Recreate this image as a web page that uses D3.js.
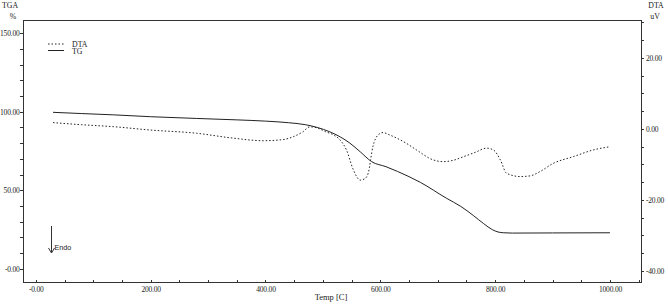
<!DOCTYPE html>
<html>
<head>
<meta charset="utf-8">
<script src="https://cdn.jsdelivr.net/npm/d3@7"></script>
<style>
  body { margin: 0; background: #fff; }
  svg { display: block; }
</style>
</head>
<body>
<svg id="chart" width="668" height="304"></svg>
<script>
// TG curve (left axis, %)
const tgTemps = [30, 80, 135, 200, 280, 350, 400, 440, 470, 490, 512, 530, 547, 565, 585, 610, 630, 670, 715, 740, 762, 780, 795, 805, 815, 830, 900, 1000];
const tgValues = [99.6, 98.8, 98.0, 96.8, 95.7, 94.8, 94.0, 93.0, 91.7, 90.0, 87.2, 84.0, 80.0, 74.5, 68.2, 65.0, 62.0, 55.0, 45.0, 39.8, 34.0, 28.8, 25.0, 23.5, 23.0, 22.8, 22.9, 23.0];

// DTA curve (right axis, uV)
const dtaTemps = [30, 80, 135, 200, 280, 340, 396, 430, 448, 465, 477, 490, 505, 520, 530, 541, 553, 565, 573, 579, 587, 596, 605, 615, 629, 645, 663, 692, 710, 725, 745, 765, 785, 797, 809, 820, 844, 861, 878, 901, 936, 971, 1000];
const dtaValues = [1.8, 1.2, 0.65, -0.3, -1.2, -2.5, -3.3, -3.0, -2.2, -0.8, 0.6, 0.3, -0.8, -1.8, -3.1, -5.9, -11.5, -14.4, -14.0, -12.4, -5.0, -1.7, -1.0, -1.6, -2.6, -4.0, -5.9, -8.7, -9.2, -8.9, -7.8, -6.6, -5.4, -5.9, -8.7, -12.5, -13.4, -13.2, -12.0, -9.7, -7.8, -5.9, -5.0];

// tick labels
const xTicks = [0, 200, 400, 600, 800, 1000];
const xTickLabels = ["-0.00", "200.00", "400.00", "600.00", "800.00", "1000.00"];
const tgTicks = [0, 50, 100, 150];
const tgTickLabels = ["-0.00", "50.00", "100.00", "150.00"];
const dtaTicks = [-40, -20, 0, 20];
const dtaTickLabels = ["-40.00", "-20.00", "0.00", "20.00"];

window.addEventListener("load", () => {
  let svg = d3.select("#chart");
  const L = 23, R = 641, T = 20, B = 282;
  const ink = "#222";
  const serif = "'Liberation Serif', 'Times New Roman', serif";

  let x = d3.scaleLinear().domain([-22.3, 1054]).range([L, R]);
  let yL = d3.scaleLinear().domain([-8.3, 158.3]).range([B, T]);
  let yR = d3.scaleLinear().domain([-43.1, 30.7]).range([B, T]);

  // frame
  svg.append("rect").attr("x", L).attr("y", T).attr("width", R - L).attr("height", B - T)
    .attr("fill", "none").attr("stroke", "#333").attr("stroke-width", 1)
    .attr("shape-rendering", "crispEdges");

  // minor ticks
  let minorX = d3.range(50, 1051, 50).filter(d => d % 200 != 0);
  let minorL = d3.range(0, 151, 10).filter(d => d % 50 != 0);
  let minorR = d3.range(-40, 31, 5).filter(d => d % 20 != 0);

  let styleAxis = (g) => {
    g.select(".domain").remove();
    g.selectAll("line").attr("stroke", "#333").attr("shape-rendering", "crispEdges");
    g.selectAll("text").attr("fill", ink).attr("font-family", serif).attr("font-size", 7.5)
      .attr("letter-spacing", -0.2);
  };

  svg.append("g").attr("transform", `translate(0,${B})`)
    .call(d3.axisBottom(x).tickValues(minorX).tickSize(-2).tickFormat(""))
    .call(styleAxis);
  svg.append("g").attr("transform", `translate(0,${B})`)
    .call(d3.axisBottom(x).tickValues(xTicks).tickSize(-2).tickPadding(5).tickFormat((d, i) => xTickLabels[i]))
    .call(styleAxis);

  svg.append("g").attr("transform", `translate(${L},0)`)
    .call(d3.axisLeft(yL).tickValues(minorL).tickSize(3).tickFormat(""))
    .call(styleAxis);
  svg.append("g").attr("transform", `translate(${L},0)`)
    .call(d3.axisLeft(yL).tickValues(tgTicks).tickSize(3).tickPadding(0.5).tickFormat((d, i) => tgTickLabels[i]))
    .call(styleAxis);

  svg.append("g").attr("transform", `translate(${R},0)`)
    .call(d3.axisRight(yR).tickValues(minorR).tickSize(3).tickFormat(""))
    .call(styleAxis);
  svg.append("g").attr("transform", `translate(${R},0)`)
    .call(d3.axisRight(yR).tickValues(dtaTicks).tickSize(3).tickPadding(2).tickFormat((d, i) => dtaTickLabels[i]))
    .call(styleAxis);

  // axis titles
  let label = (txt, lx, ly, size, anchor, family) => svg.append("text").text(txt)
    .attr("x", lx).attr("y", ly).attr("fill", ink)
    .attr("font-family", family || serif).attr("font-size", size)
    .attr("text-anchor", anchor || "middle");
  label("TGA", 10, 8, 7.8);
  label("%", 13, 19, 7.8);
  label("DTA", 656, 8, 7.8);
  label("uV", 655, 19, 7.8);
  label("Temp  [C]", 331, 300, 8.5);

  // curves
  let tg = tgTemps.map((t, i) => [t, tgValues[i]]);
  let dta = dtaTemps.map((t, i) => [t, dtaValues[i]]);

  svg.append("path").datum(dta)
    .attr("d", d3.line().x(d => x(d[0])).y(d => yR(d[1])).curve(d3.curveMonotoneX))
    .attr("fill", "none").attr("stroke", "#222").attr("stroke-width", 1)
    .attr("stroke-dasharray", "1.5,2");

  svg.append("path").datum(tg)
    .attr("d", d3.line().x(d => x(d[0])).y(d => yL(d[1])).curve(d3.curveMonotoneX))
    .attr("fill", "none").attr("stroke", "#222").attr("stroke-width", 1);

  // legend
  svg.append("line").attr("x1", 48).attr("x2", 64).attr("y1", 44).attr("y2", 44)
    .attr("stroke", "#222").attr("stroke-dasharray", "1.5,2");
  svg.append("line").attr("x1", 48).attr("x2", 64).attr("y1", 50.5).attr("y2", 50.5)
    .attr("stroke", "#222");
  label("DTA", 72, 46.5, 7.8, "start");
  label("TG", 72, 54, 7.8, "start");

  // endo marker
  svg.append("line").attr("x1", 51.5).attr("x2", 51.5).attr("y1", 226).attr("y2", 252)
    .attr("stroke", "#333");
  svg.append("path").attr("d", "M48.5,248 L51.5,253 L54.5,248")
    .attr("fill", "none").attr("stroke", "#333");
  label("Endo", 54.5, 249.5, 7.2, "start", "'Liberation Sans', Arial, sans-serif");
});
</script>
</body>
</html>
